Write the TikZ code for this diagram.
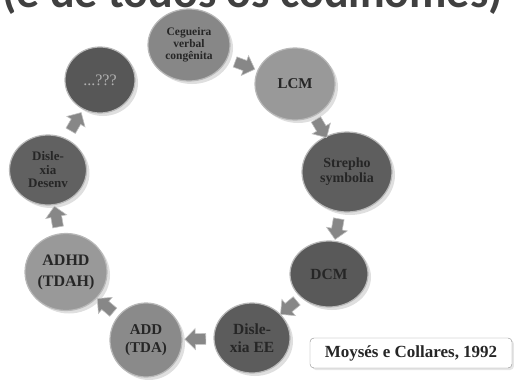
\documentclass[tikz,border=0pt]{standalone}
\usepackage{fontspec}
\setmainfont{Liberation Serif}
\newfontfamily\titlefont{Carlito}
\usetikzlibrary{shapes.geometric,shapes.arrows,shadows}

\begin{document}
\begin{tikzpicture}[x=1pt,y=-1pt,
    stage/.style={ellipse, draw=white!72!black, line width=1.2pt, text=black!85,
      align=center, inner sep=0pt,
      drop shadow={shadow xshift=3pt,shadow yshift=-3pt,opacity=.25}},
    nextarrow/.style={single arrow, fill=black!47, draw=white!75!black, line width=.6pt,
      minimum height=21pt, minimum width=21pt, inner sep=5pt, single arrow head extend=5pt,
      sloped, allow upside down, midway}]
  \useasboundingbox (0,0) rectangle (514,380);
  \clip (0,0) rectangle (514,380);
  % title, cut at the top
  \node[anchor=base west, inner sep=0pt, text=black!75,
    font=\titlefont\bfseries\fontsize{46}{46}\selectfont] (title) at (2,8) {(e de todos os codinomes)};
  % the names, in a ring
  \node[stage, fill=black!47, minimum width=82pt, minimum height=72pt,
    font=\bfseries\fontsize{11.5}{12}\selectfont] (ceg) at (189,45) {Cegueira\\verbal\\congênita};
  \node[stage, fill=black!40, minimum width=80pt, minimum height=72pt,
    font=\bfseries\fontsize{15}{16}\selectfont] (lcm) at (295,84) {LCM};
  \node[stage, fill=black!63, minimum width=90pt, minimum height=80pt,
    font=\bfseries\fontsize{14}{15}\selectfont] (strepho) at (347,172) {Strepho\\symbolia};
  \node[stage, fill=black!65, minimum width=78pt, minimum height=66pt,
    font=\bfseries\fontsize{15.5}{16}\selectfont] (dcm) at (329,274) {DCM};
  \node[stage, fill=black!64, minimum width=76pt, minimum height=70pt,
    font=\bfseries\fontsize{15.5}{18}\selectfont] (ee) at (252,338) {Disle-\\xia EE};
  \node[stage, fill=black!46, minimum width=72pt, minimum height=74pt,
    font=\bfseries\fontsize{15}{18}\selectfont] (add) at (146,340) {ADD\\(TDA)};
  \node[stage, fill=black!40, minimum width=82pt, minimum height=77pt,
    font=\bfseries\fontsize{16}{21}\selectfont] (adhd) at (66,272) {ADHD\\(TDAH)};
  \node[stage, fill=black!62, minimum width=77pt, minimum height=70pt,
    font=\bfseries\fontsize{13}{13.5}\selectfont] (desenv) at (48,170) {Disle-\\xia\\Desenv};
  \node[stage, fill=black!66, minimum width=70pt, minimum height=66pt, text=black!30,
    font=\fontsize{16}{17}\selectfont] (quest) at (100,80) {...???};
  % arrows between them
  \path (ceg) -- node[nextarrow] {} (lcm);
  \path (lcm) -- node[nextarrow] {} (strepho);
  \path (strepho) -- node[nextarrow] {} (dcm);
  \path (dcm) -- node[nextarrow] {} (ee);
  \path (ee) -- node[nextarrow] {} (add);
  \path (add) -- node[nextarrow] {} (adhd);
  \path (adhd) -- node[nextarrow] {} (desenv);
  \path (desenv) -- node[nextarrow] {} (quest);
  % source
  \node[draw=black!45, fill=white, rounded corners=4pt, minimum width=202pt, minimum height=30pt,
    text=black!85, font=\bfseries\fontsize{17}{18}\selectfont,
    drop shadow={shadow xshift=2pt,shadow yshift=-2pt,opacity=.2}] (source) at (411,353) {Moysés e Collares, 1992};
\end{tikzpicture}
\end{document}
